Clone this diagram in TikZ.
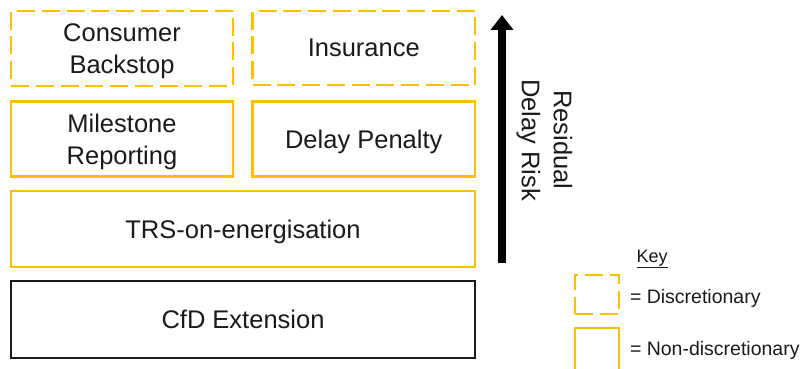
\documentclass[tikz,border=0pt]{standalone}
\usepackage{fontspec}
\setmainfont{Liberation Sans}
\usetikzlibrary{arrows.meta}
\definecolor{gold}{HTML}{FFC000}
\definecolor{ink}{HTML}{1A1A1A}
% drop the descender depth so a block centres on cap top and last baseline
\newcommand\nodepth[1]{\raisebox{0pt}[\height][0pt]{#1}}
\begin{document}
\begin{tikzpicture}[x=1pt,y=-1pt,
  every node/.style={text=ink, align=center, inner sep=0pt, outer sep=0pt,
    font=\fontsize{25.5}{32}\selectfont},
  optbox/.style={draw=gold, line width=2.3pt, dash pattern=on 18pt off 6.75pt},
  firmbox/.style={draw=gold, line width=2.3pt},
  basebox/.style={draw=ink, line width=2.3pt},
  keytext/.style={anchor=base west, font=\fontsize{19.5}{23}\selectfont}]
\useasboundingbox (0,0) rectangle (811,369);
\begin{scope}
\clip (0,0) rectangle (811,369);

% stacked mitigation tiers
\node[optbox, minimum width=222pt, minimum height=75pt] (backstop) at (122,48.5) {Consumer\\\nodepth{Backstop}};
\node[optbox, minimum width=222.5pt, minimum height=74pt] (insurance) at (363.75,48) {Insurance};
\node[firmbox, minimum width=222pt, minimum height=75pt] (milestone) at (122,139) {Milestone\\\nodepth{Reporting}};
\node[firmbox, minimum width=222.5pt, minimum height=75pt] (penalty) at (363.75,139) {\nodepth{Delay Penalty}};
\node[firmbox, minimum width=464pt, minimum height=76pt] (trs) at (243,229) {\nodepth{TRS-on-energisation}};
\node[basebox, minimum width=464pt, minimum height=77pt] (cfd) at (243,319.5) {CfD Extension};

% residual risk arrow
\coordinate (riskfoot) at (502,263);
\coordinate (risktip) at (502,15);
\draw[line width=8pt, draw=black, -{Triangle[width=22pt,length=15pt]}] (riskfoot) -- (risktip);
\node[rotate=-90] (risklabel) at (547,140) {Residual\\\nodepth{Delay Risk}};

% key
\node[anchor=base, font=\fontsize{18}{22}\selectfont] (keytitle) at (652,262) {\underline{Key}};
\node[optbox, minimum width=44pt, minimum height=39pt] (keyopt) at (597,294.5) {};
\node[firmbox, minimum width=44pt, minimum height=60pt, anchor=north] (keyfirm) at (597,328) {};
\node[keytext] (optnote) at (630,303) {= Discretionary};
\node[keytext] (firmnote) at (630,355) {= Non-discretionary};
\end{scope}
\end{tikzpicture}
\end{document}
